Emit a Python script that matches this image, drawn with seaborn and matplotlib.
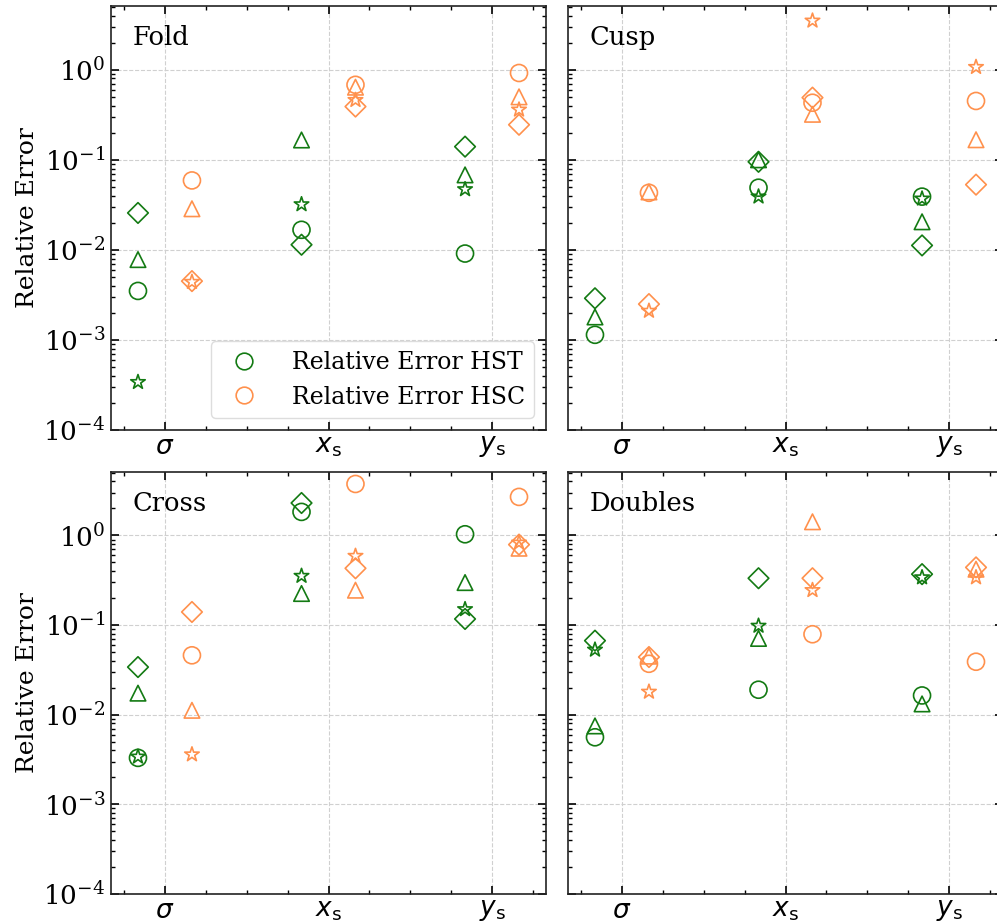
import numpy as np
import pandas as pd
import seaborn as sns
import matplotlib.pyplot as plt
from matplotlib.lines import Line2D
from matplotlib.ticker import MultipleLocator, LogLocator, NullFormatter

# ---------------- data ----------------
params = ["sigma", "x_s", "y_s"]
tick_labels = [r"$\sigma$", r"$x_{\rm s}$", r"$y_{\rm s}$"]
panels = ["Fold", "Cusp", "Cross", "Doubles"]
telescopes = ["HST", "HSC"]
shapes = ["circle", "triangle", "diamond", "star"]

# Fold
fold_hst_circle = [0.0035, 0.0167, 0.0091]
fold_hst_triangle = [0.0078, 0.166, 0.068]
fold_hst_diamond = [0.0257, 0.0114, 0.14]
fold_hst_star = [0.00034, 0.032, 0.047]
fold_hsc_circle = [0.059, 0.68, 0.92]
fold_hsc_triangle = [0.0286, 0.64, 0.5]
fold_hsc_diamond = [0.0045, 0.39, 0.245]
fold_hsc_star = [0.0044, 0.46, 0.36]
# Cusp
cusp_hst_circle = [0.00114, 0.049, 0.039]
cusp_hst_triangle = [0.0018, 0.1, 0.0205]
cusp_hst_diamond = [0.0029, 0.095, 0.0112]
cusp_hst_star = [np.nan, 0.039, 0.037]
cusp_hsc_circle = [0.043, 0.43, 0.45]
cusp_hsc_triangle = [0.044, 0.32, 0.167]
cusp_hsc_diamond = [0.0025, 0.49, 0.053]
cusp_hsc_star = [0.0021, 3.5, 1.07]
# Cross
cross_hst_circle = [0.0033, 1.83, 1.03]
cross_hst_triangle = [0.0174, 0.225, 0.298]
cross_hst_diamond = [0.034, 2.3, 0.117]
cross_hst_star = [0.0034, 0.353, 0.15]
cross_hsc_circle = [0.046, 3.75, 2.69]
cross_hsc_triangle = [0.0112, 0.245, 0.72]
cross_hsc_diamond = [0.14, 0.43, 0.79]
cross_hsc_star = [0.0036, 0.59, 0.83]
# Doubles
doubles_hst_circle = [0.0056, 0.019, 0.0164]
doubles_hst_triangle = [0.0075, 0.071, 0.0132]
doubles_hst_diamond = [0.067, 0.333, 0.37]
doubles_hst_star = [0.053, 0.098, 0.34]
doubles_hsc_circle = [0.037, 0.079, 0.039]
doubles_hsc_triangle = [0.045, 1.42, 0.42]
doubles_hsc_diamond = [0.044, 0.333, 0.44]
doubles_hsc_star = [0.018, 0.245, 0.34]

series = {
    ("Fold", "HST"): [fold_hst_circle, fold_hst_triangle, fold_hst_diamond, fold_hst_star],
    ("Fold", "HSC"): [fold_hsc_circle, fold_hsc_triangle, fold_hsc_diamond, fold_hsc_star],
    ("Cusp", "HST"): [cusp_hst_circle, cusp_hst_triangle, cusp_hst_diamond, cusp_hst_star],
    ("Cusp", "HSC"): [cusp_hsc_circle, cusp_hsc_triangle, cusp_hsc_diamond, cusp_hsc_star],
    ("Cross", "HST"): [cross_hst_circle, cross_hst_triangle, cross_hst_diamond, cross_hst_star],
    ("Cross", "HSC"): [cross_hsc_circle, cross_hsc_triangle, cross_hsc_diamond, cross_hsc_star],
    ("Doubles", "HST"): [doubles_hst_circle, doubles_hst_triangle, doubles_hst_diamond, doubles_hst_star],
    ("Doubles", "HSC"): [doubles_hsc_circle, doubles_hsc_triangle, doubles_hsc_diamond, doubles_hsc_star],
}

rows = []
for (panel, tel), lists in series.items():
    for shp, vals in zip(shapes, lists):
        for i, v in enumerate(vals):
            rows.append(dict(panel=panel, telescope=tel, mshape=shp, param_idx=i, value=v))
df = pd.DataFrame(rows).dropna()

# ---------------- style ----------------
colors = {"HST": "#137a13", "HSC": "#ff914d"}
offsets = {"HST": -0.165, "HSC": 0.165}
marker_map = {"circle": "o", "triangle": "^", "diamond": "D", "star": "*"}
size_map = {"circle": 150, "triangle": 125, "diamond": 110, "star": 120}

sns.set_style("ticks")
plt.rcParams["font.family"] = ["DejaVu Serif"]
plt.rcParams["mathtext.fontset"] = "dejavusans"
plt.rcParams["xtick.direction"] = "in"
plt.rcParams["ytick.direction"] = "in"
plt.rcParams["xtick.top"] = True
plt.rcParams["ytick.right"] = True
plt.rcParams["text.color"] = "black"
plt.rcParams["axes.labelcolor"] = "black"
plt.rcParams["xtick.color"] = "black"
plt.rcParams["ytick.color"] = "black"

W, H = 997, 924
fig = plt.figure(figsize=(W / 100, H / 100), dpi=100)

boxes = {
    "Fold": (111, 6, 546, 430),
    "Cusp": (568, 6, 1003, 430),
    "Cross": (111, 472, 546, 894),
    "Doubles": (568, 472, 1003, 894),
}

axes = {}
for panel in panels:
    l, t, r, b = boxes[panel]
    ax = fig.add_axes([l / W, (H - b) / H, (r - l) / W, (b - t) / H])
    axes[panel] = ax
    sub = df[df["panel"] == panel]
    for tel in telescopes:
        for shp in shapes:
            g = sub[(sub["telescope"] == tel) & (sub["mshape"] == shp)]
            if g.empty:
                continue
            sns.scatterplot(
                x=g["param_idx"] + offsets[tel], y=g["value"], ax=ax,
                marker=marker_map[shp], s=size_map[shp],
                color=colors[tel], facecolor="none", edgecolor=colors[tel],
                linewidth=1.2, legend=False, zorder=3,
            )
    ax.set_yscale("log")
    ax.set_ylim(1e-4, 5.1)
    ax.set_xlim(-0.33, 2.33)
    ax.set_xticks([0, 1, 2])
    ax.set_xticklabels(tick_labels, fontsize=19)
    ax.xaxis.set_minor_locator(MultipleLocator(0.25))
    ax.yaxis.set_major_locator(LogLocator(base=10, numticks=10))
    ax.yaxis.set_minor_locator(LogLocator(base=10, subs=np.arange(2, 10), numticks=20))
    ax.yaxis.set_minor_formatter(NullFormatter())
    ax.tick_params(which="major", length=6, width=1.2, labelsize=19, pad=4)
    ax.tick_params(axis="x", which="major", pad=3)
    ax.tick_params(which="minor", length=3, width=1.0)
    ax.grid(True, which="major", ls="--", color="#d0d0d0", lw=0.8)
    ax.set_axisbelow(True)
    for sp in ax.spines.values():
        sp.set_linewidth(1.2)
        sp.set_color("#222222")
    ax.set_xlabel("")
    ax.set_ylabel("")
    ax.text(0.05, 0.955, panel, transform=ax.transAxes, fontsize=18.5, va="top", ha="left")
    if panel in ("Fold", "Cross"):
        ax.set_ylabel("Relative Error", fontsize=18, labelpad=3)
    else:
        ax.tick_params(axis="y", labelleft=False)

handles = [
    Line2D([], [], ls="", marker="o", ms=12, mfc="none", mec=colors[t], mew=1.2,
           label=f"Relative Error {t}")
    for t in telescopes
]
axes["Fold"].legend(handles=handles, loc="lower right", fontsize=17,
                    handletextpad=1.0, borderaxespad=0.5, framealpha=1,
                    edgecolor="#dddddd")

fig.savefig("out.png", dpi=100)
